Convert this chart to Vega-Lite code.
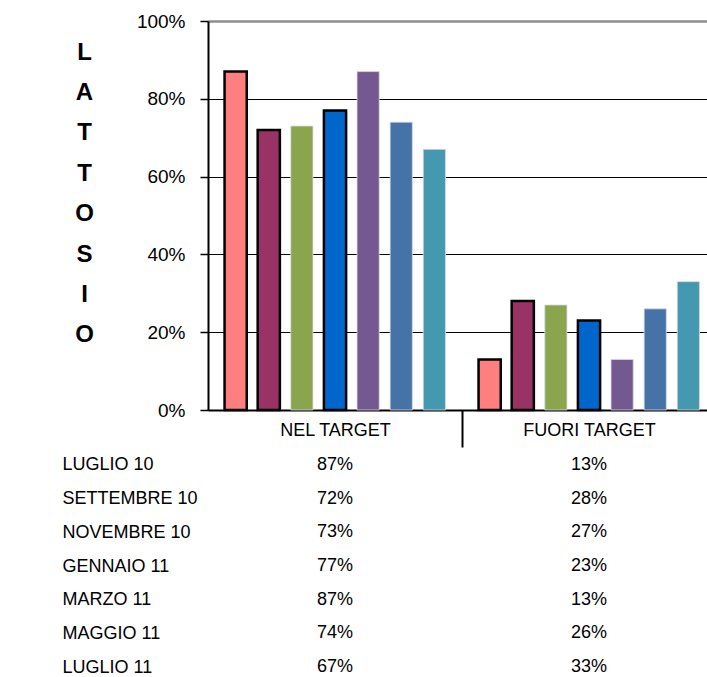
{
  "$schema": "https://vega.github.io/schema/vega-lite/v6.json",
  "padding": {"left": 62, "top": 12, "right": 0, "bottom": 0},
  "background": "white",
  "config": {"view": {"stroke": null}, "font": "Liberation Sans", "concat": {"spacing": 0}},
  "datasets": {
    "righe": [
      {"mese": "LUGLIO 10", "categoria": "NEL TARGET", "valore": 0.87},
      {"mese": "SETTEMBRE 10", "categoria": "NEL TARGET", "valore": 0.72},
      {"mese": "NOVEMBRE 10", "categoria": "NEL TARGET", "valore": 0.73},
      {"mese": "GENNAIO 11", "categoria": "NEL TARGET", "valore": 0.77},
      {"mese": "MARZO 11", "categoria": "NEL TARGET", "valore": 0.87},
      {"mese": "MAGGIO 11", "categoria": "NEL TARGET", "valore": 0.74},
      {"mese": "LUGLIO 11", "categoria": "NEL TARGET", "valore": 0.67},
      {"mese": "LUGLIO 10", "categoria": "FUORI TARGET", "valore": 0.13},
      {"mese": "SETTEMBRE 10", "categoria": "FUORI TARGET", "valore": 0.28},
      {"mese": "NOVEMBRE 10", "categoria": "FUORI TARGET", "valore": 0.27},
      {"mese": "GENNAIO 11", "categoria": "FUORI TARGET", "valore": 0.23},
      {"mese": "MARZO 11", "categoria": "FUORI TARGET", "valore": 0.13},
      {"mese": "MAGGIO 11", "categoria": "FUORI TARGET", "valore": 0.26},
      {"mese": "LUGLIO 11", "categoria": "FUORI TARGET", "valore": 0.33}
    ]
  },
  "spacing": 0,
  "vconcat": [
    {
      "width": 508,
      "height": 389,
      "data": {"name": "righe"},
      "mark": {"type": "bar"},
      "encoding": {
        "x": {
          "field": "categoria", "type": "nominal",
          "sort": ["NEL TARGET", "FUORI TARGET"],
          "scale": {"paddingInner": 0, "paddingOuter": 0},
          "axis": {
            "title": null, "labelAngle": 0, "labelFontSize": 18, "labelColor": "black",
            "tickBand": "extent", "tickSize": 37, "tickWidth": 2, "tickColor": "black",
            "tickOpacity": {"condition": {"test": "datum.value === 'NEL TARGET'", "value": 1}, "value": 0},
            "labelPadding": -26, "domainColor": "black", "domainWidth": 2
          }
        },
        "xOffset": {
          "field": "mese", "type": "nominal",
          "sort": ["LUGLIO 10", "SETTEMBRE 10", "NOVEMBRE 10", "GENNAIO 11", "MARZO 11", "MAGGIO 11", "LUGLIO 11"],
          "scale": {"paddingInner": 0.33, "paddingOuter": 0.5}
        },
        "y": {
          "field": "valore", "type": "quantitative",
          "scale": {"domain": [0, 1]},
          "axis": {
            "values": [0, 0.2, 0.4, 0.6, 0.8, 1], "format": ".0%",
            "labelFontSize": 19, "labelColor": "black", "tickSize": 8, "tickColor": "black", "tickWidth": 1.5,
            "labelPadding": 15, "domainColor": "black", "domainWidth": 2,
            "gridColor": {"condition": {"test": "datum.value === 1", "value": "#8c8c8c"}, "value": "black"},
            "gridWidth": {"condition": {"test": "datum.value === 1", "value": 2.5}, "value": 1},
            "gridOpacity": 1,
            "title": ["L", "A", "T", "T", "O", "S", "I", "O"],
            "titleAngle": 0, "titleFontSize": 24, "titleFontWeight": "bold", "titleColor": "black",
            "titleAlign": "center", "titleBaseline": "middle", "titleLineHeight": 40.4,
            "titleX": -124, "titleY": 31
          }
        },
        "color": {
          "field": "mese", "type": "nominal", "legend": null,
          "scale": {
            "domain": ["LUGLIO 10", "SETTEMBRE 10", "NOVEMBRE 10", "GENNAIO 11", "MARZO 11", "MAGGIO 11", "LUGLIO 11"],
            "range": ["#FF7F7F", "#993366", "#8BA54F", "#0066CC", "#735990", "#4573A7", "#4499B1"]
          }
        },
        "stroke": {
          "condition": {"test": "indexof(['LUGLIO 10','SETTEMBRE 10','GENNAIO 11'], datum.mese) >= 0", "value": "black"},
          "value": "#d8d8e8"
        },
        "strokeWidth": {
          "condition": {"test": "indexof(['LUGLIO 10','SETTEMBRE 10','GENNAIO 11'], datum.mese) >= 0", "value": 2.5},
          "value": 0.8
        }
      }
    },
    {
      "width": 508,
      "height": 236,
      "data": {"name": "righe"},
      "mark": {"type": "text", "fontSize": 18, "color": "black"},
      "encoding": {
        "x": {
          "field": "categoria", "type": "nominal",
          "sort": ["NEL TARGET", "FUORI TARGET"],
          "scale": {"paddingInner": 0, "paddingOuter": 0},
          "axis": null
        },
        "y": {
          "field": "mese", "type": "nominal",
          "sort": ["LUGLIO 10", "SETTEMBRE 10", "NOVEMBRE 10", "GENNAIO 11", "MARZO 11", "MAGGIO 11", "LUGLIO 11"],
          "scale": {"paddingInner": 0, "paddingOuter": 0},
          "axis": {
            "title": null, "domain": false, "ticks": false, "tickSize": 0,
            "labelAlign": "left", "labelPadding": 146, "labelFontSize": 18, "labelColor": "black"
          }
        },
        "text": {"field": "valore", "type": "quantitative", "format": ".0%"}
      }
    }
  ]
}
